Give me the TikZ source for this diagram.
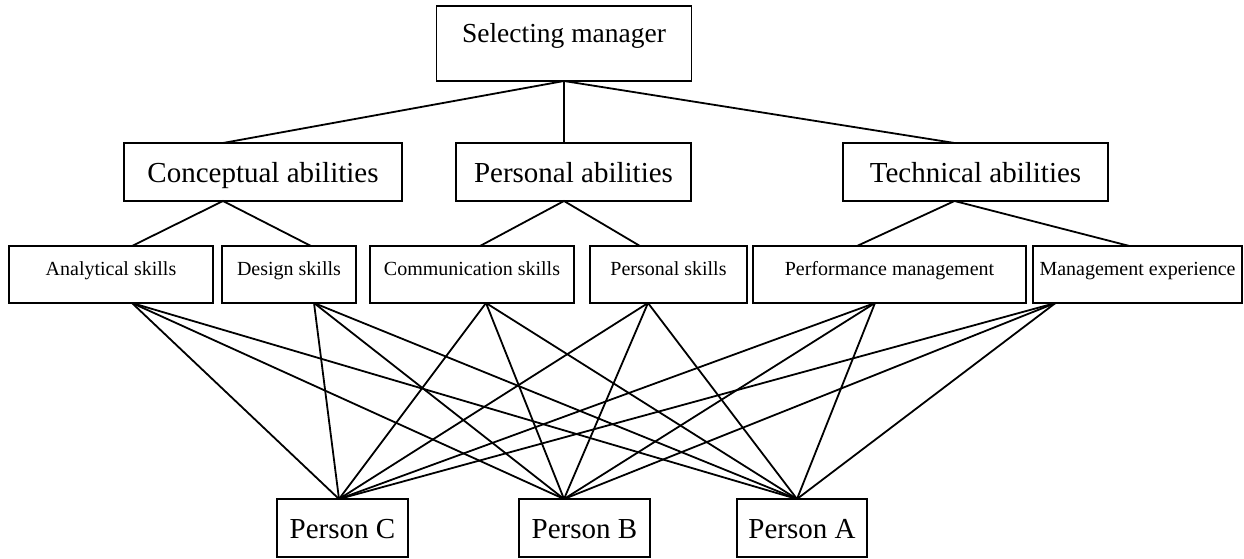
\documentclass[tikz,border=0pt]{standalone}
\usepackage{fontspec}
\setmainfont{Liberation Serif}
\usetikzlibrary{positioning}
\tikzset
{
    box/.style       = {draw=black, line width=1.8pt, inner sep=0pt, outer sep=0pt, align=center},
    topbox/.style    = {box, font=\fontsize{27.5}{33}\selectfont, text height=37pt, text depth=38pt},
    groupbox/.style  = {box, font=\fontsize{29}{35}\selectfont, text height=39pt, text depth=19pt},
    skillbox/.style  = {box, font=\fontsize{20}{24}\selectfont, text height=29pt, text depth=28pt},
    personbox/.style = {box, font=\fontsize{29}{35}\selectfont, text height=39pt, text depth=19pt},
    link/.style      = {line width=1.8pt, line cap=round}
}

\begin{document}
\begin{tikzpicture}[x=1pt, y=-1pt]
    \useasboundingbox (0,0) rectangle (1244,559);

    % goal
    \node [topbox, anchor=north west, minimum width=255pt] (boss) at (436.5,6) {Selecting manager};

    % criteria
    \node [groupbox, anchor=north west, minimum width=278pt] (conc) at (124,143) {Conceptual abilities};
    \node [groupbox, right=54pt of conc, minimum width=235pt] (pers) {Personal abilities};
    \node [groupbox, right=152pt of pers, minimum width=265pt] (tech) {Technical abilities};

    % sub-criteria
    \node [skillbox, anchor=north west, minimum width=204pt] (ana) at (9,246) {Analytical skills};
    \node [skillbox, right=9pt of ana, minimum width=134pt] (des) {Design skills};
    \node [skillbox, right=14pt of des, minimum width=204pt] (comm) {Communication skills};
    \node [skillbox, right=16pt of comm, minimum width=157pt] (psk) {Personal skills};
    \node [skillbox, right=6pt of psk, minimum width=273pt] (perf) {Performance management};
    \node [skillbox, right=7pt of perf, minimum width=209pt] (mgmt) {Management experience};

    % alternatives
    \node [personbox, anchor=north west, minimum width=131pt] (pc) at (277,499) {Person C};
    \node [personbox, right=111pt of pc, minimum width=131pt] (pb) {Person B};
    \node [personbox, right=87pt of pb, minimum width=130pt] (pa) {Person A};

    % goal -> criteria
    \draw [link] (boss.south) -- ([xshift=-40pt]conc.north);
    \draw [link] (boss.south) -- ([xshift=-9.5pt]pers.north);
    \draw [link] (boss.south) -- ([xshift=-21pt]tech.north);

    % criteria -> sub-criteria
    \draw [link] ([xshift=21pt]ana.north) -- ([xshift=-40pt]conc.south) -- ([xshift=22pt]des.north);
    \draw [link] ([xshift=8pt]comm.north) -- ([xshift=-9.5pt]pers.south) -- ([xshift=-28.5pt]psk.north);
    \draw [link] ([xshift=-32.5pt]perf.north) -- ([xshift=-21pt]tech.south) -- ([xshift=-8pt]mgmt.north);

    % sub-criteria -> alternatives
    \coordinate (ana-b)  at ([xshift=21pt]ana.south);
    \coordinate (des-b)  at ([xshift=25pt]des.south);
    \coordinate (comm-b) at ([xshift=14pt]comm.south);
    \coordinate (psk-b)  at ([xshift=-20.5pt]psk.south);
    \coordinate (perf-b) at ([xshift=-14.5pt]perf.south);
    \coordinate (mgmt-b) at ([xshift=-82pt]mgmt.south);
    \coordinate (pc-t) at ([xshift=-3.5pt]pc.north);
    \coordinate (pb-t) at ([xshift=-20.5pt]pb.north);
    \coordinate (pa-t) at ([xshift=-5pt]pa.north);

    \foreach \s in {ana-b, des-b, comm-b, psk-b, perf-b, mgmt-b}
        \foreach \p in {pc-t, pb-t, pa-t}
            \draw [link] (\s) -- (\p);
\end{tikzpicture}
\end{document}
